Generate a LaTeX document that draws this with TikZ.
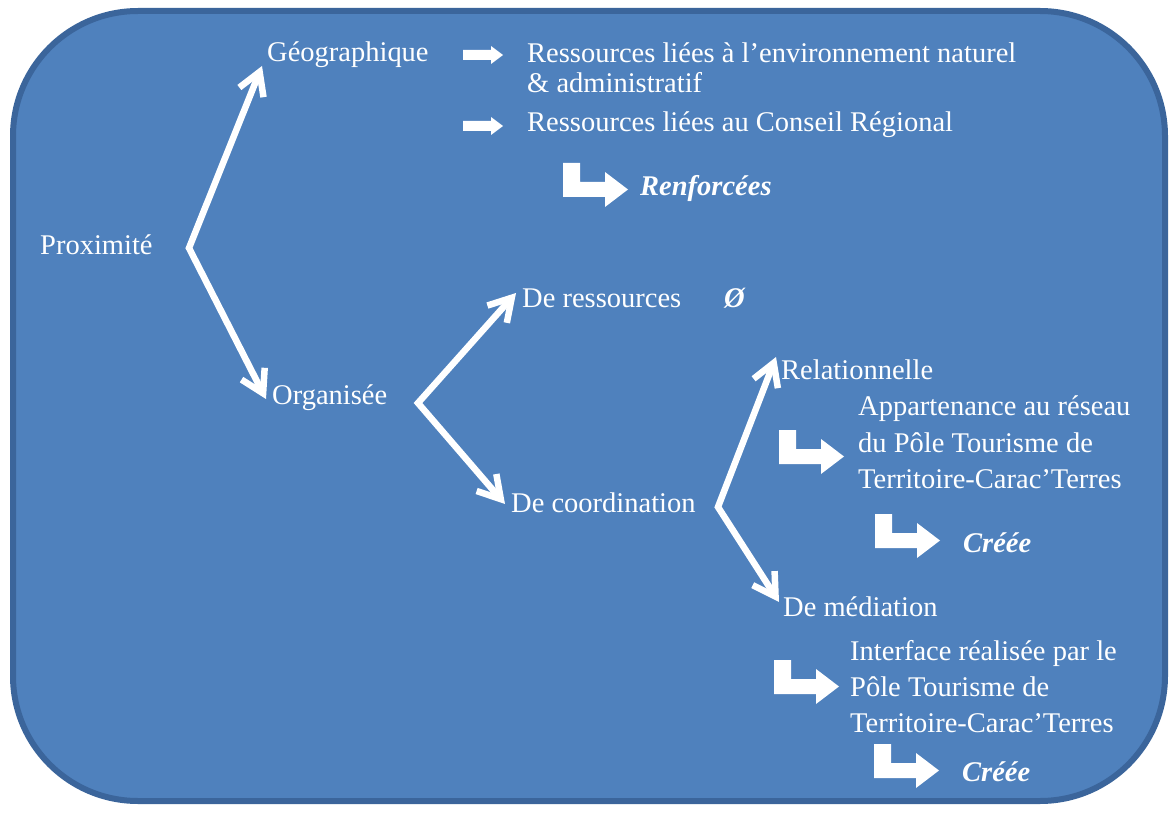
\documentclass[tikz,border=0pt]{standalone}
\usepackage{fontspec}
\setmainfont{Liberation Serif}
\usetikzlibrary{arrows.meta}
\definecolor{boxfill}{HTML}{4F81BD}
\definecolor{boxline}{HTML}{3B659B}
\begin{document}
\begin{tikzpicture}[x=1pt,y=-1pt,
  lbl/.style={anchor=base west, inner sep=0pt, text=white, font=\fontsize{28.5}{30}\selectfont},
  emph/.style={lbl, font=\fontsize{28.5}{30}\selectfont\bfseries\itshape},
  branch/.style={draw=white, line width=6.5pt, line join=miter, miter limit=20,
    {Straight Barb[length=22pt,width=26pt]}-{Straight Barb[length=22pt,width=26pt]}},
  bentarrow/.pic={\fill[white] (0,0) -- (17,0) -- (17,19) -- (42,19) -- (42,9) -- (65,26.5) -- (42,44) -- (42,34) -- (0,34) -- cycle;},
  blockarrow/.pic={\fill[white] (0,-5) -- (28,-5) -- (28,-9) -- (40,0) -- (28,9) -- (28,5) -- (0,5) -- cycle;}
]
\useasboundingbox (0,0) rectangle (1171,813);
\draw[fill=boxfill, draw=boxline, line width=6pt, rounded corners=125pt] (13,11) rectangle (1165,801);

% level 0
\node[lbl] (prox) at (40,255) {Proximité};
\coordinate (v0) at (189,248);
\coordinate (tgeo) at (262,66);
\coordinate (torg) at (266,399);
\draw[branch] (tgeo) -- (v0) -- (torg);

% geographique
\node[lbl] (geo) at (267,62) {Géographique};
\pic (ba1) at (463,55) {blockarrow};
\node[lbl] (r1a) at (527,63) {Ressources liées à l’environnement naturel};
\node[lbl] (r1b) at (527,93) {\& administratif};
\pic (ba2) at (463,126) {blockarrow};
\node[lbl] (r2) at (527,132) {Ressources liées au Conseil Régional};
\pic (bn1) at (563,163) {bentarrow};
\node[emph] (renf) at (640,196) {Renforcées};

% organisee
\node[lbl] (org) at (272,404) {Organisée};
\coordinate (v1) at (418,403);
\coordinate (tres) at (516,293);
\coordinate (tcoo) at (505,504);
\draw[branch] (tres) -- (v1) -- (tcoo);
\node[lbl] (dres) at (522,308) {De ressources};
\node[emph] (empty) at (724,308) {Ø};
\node[lbl] (dcoo) at (511,512) {De coordination};

% coordination
\coordinate (v2) at (718,507);
\coordinate (trel) at (776,357);
\coordinate (tmed) at (779,602);
\draw[branch] (trel) -- (v2) -- (tmed);
\node[lbl] (rel) at (781,379) {Relationnelle};
\pic (bn2) at (779,430) {bentarrow};
\node[lbl] (app1) at (858,415) {Appartenance au réseau};
\node[lbl] (app2) at (858,452) {du Pôle Tourisme de};
\node[lbl] (app3) at (858,488) {Territoire-Carac’Terres};
\pic (bn3) at (875,514) {bentarrow};
\node[emph] (cree1) at (963,552) {Créée};

\node[lbl] (med) at (783,616) {De médiation};
\pic (bn4) at (774,660) {bentarrow};
\node[lbl] (int1) at (850,660) {Interface réalisée par le};
\node[lbl] (int2) at (850,696) {Pôle Tourisme de};
\node[lbl] (int3) at (850,732) {Territoire-Carac’Terres};
\pic (bn5) at (874,744) {bentarrow};
\node[emph] (cree2) at (962,781) {Créée};
\end{tikzpicture}
\end{document}
